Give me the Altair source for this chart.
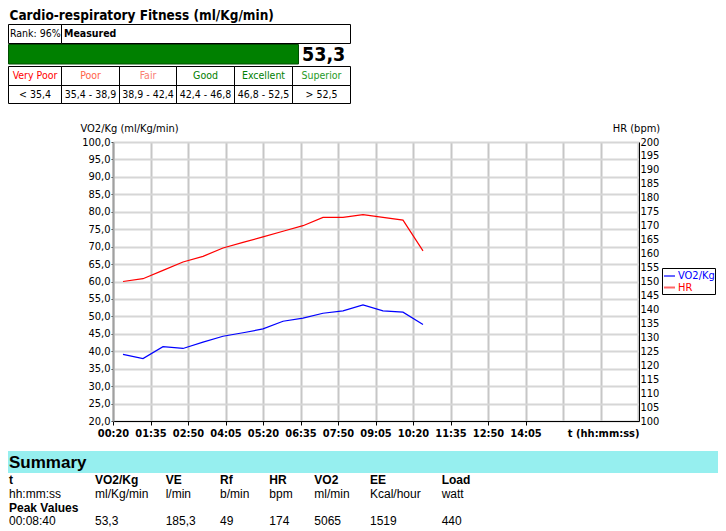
import altair as alt
import pandas as pd

# ---------------- data ----------------
time_s = [40, 80, 120, 160, 200, 240, 280, 320, 360, 400, 440, 480, 520, 560, 600, 640]
vo2_kg = [39.1, 37.9, 41.3, 40.8, 42.6, 44.3, 45.3, 46.4, 48.6, 49.5, 50.9, 51.6, 53.3, 51.6, 51.2, 47.7]
hr_bpm = [150, 151, 154, 157, 159, 162, 164, 166, 168, 170, 173, 173, 174, 173, 172, 161]

x_tick_seconds = [20, 95, 170, 245, 320, 395, 470, 545, 620, 695, 770, 845, 920, 995, 1070]
vo2_ticks = [20, 25, 30, 35, 40, 45, 50, 55, 60, 65, 70, 75, 80, 85, 90, 95, 100]
hr_ticks = [100, 105, 110, 115, 120, 125, 130, 135, 140, 145, 150, 155, 160, 165, 170, 175,
            180, 185, 190, 195, 200]

title_text = "Cardio-respiratory Fitness (ml/Kg/min)"
rank_text = "Rank: 96%"
measured_text = "Measured"
measured_value = 53.3
measured_label = "53,3"
categories = ["Very Poor", "Poor", "Fair", "Good", "Excellent", "Superior"]
category_ranges = ["< 35,4", "35,4 - 38,9", "38,9 - 42,4", "42,4 - 46,8", "46,8 - 52,5", "> 52,5"]
category_colors = ["#ff0000", "#ff6347", "#fa8072", "#008000", "#008000", "#1f9a1f"]

series_names = ["VO2/Kg", "HR"]
series_colors = ["#0000ff", "#ff0000"]

summary_title = "Summary"
summary_heads = ["t", "VO2/Kg", "VE", "Rf", "HR", "VO2", "EE", "Load"]
summary_units = ["hh:mm:ss", "ml/Kg/min", "l/min", "b/min", "bpm", "ml/min", "Kcal/hour", "watt"]
peak_label = "Peak Values"
peak_values = ["00:08:40", "53,3", "185,3", "49", "174", "5065", "1519", "440"]

# ---------------- layout (pixels, relative to plot origin) ----------------
COND = "DejaVu Sans Condensed, DejaVu Sans"
ARIAL = "Liberation Sans, Arial"
PLOT_W, PLOT_H = 526, 279
LEFT = -104.5
col_edges = [LEFT, -51.5, 6.5, 63.5, 121.5, 179.5, 237.5]
sum_cols = [-104, -18, 52.7, 107, 156.3, 201.3, 257, 328.7]


def text_layer(df, size, weight="normal", align="left", font=COND):
    return alt.Chart(df).mark_text(
        align=align, baseline="middle", fontSize=size, fontWeight=weight, font=font
    ).encode(
        x=alt.X("px:Q", scale=None, axis=None),
        y=alt.Y("py:Q", scale=None, axis=None),
        text="label:N",
        color=alt.Color("col:N", scale=None, legend=None),
    )


def box_layer(df, fill="transparent", stroke="black", sw=1):
    return alt.Chart(df).mark_rect(fill=fill, stroke=stroke, strokeWidth=sw).encode(
        x=alt.X("x0:Q", scale=None, axis=None),
        x2="x1:Q",
        y=alt.Y("y0:Q", scale=None, axis=None),
        y2="y1:Q",
    )


# ---------------- main lines ----------------
df = pd.DataFrame({"t": time_s, "vo2": vo2_kg, "hr": hr_bpm})
xscale = alt.Scale(domain=[20, 1072], nice=False, zero=False)

x_label_expr = ("datum.value > 900 ? '' : pad(floor(datum.value / 60), 2, '0', 'left') + ':' + "
                "pad(datum.value % 60, 2, '0', 'left')")

vo2_line = alt.Chart(df).mark_line(color=series_colors[0], strokeWidth=1.2).encode(
    x=alt.X("t:Q", scale=xscale, axis=alt.Axis(
        values=x_tick_seconds, labelExpr=x_label_expr, labelFontWeight="bold", labelFontSize=11,
        tickSize=4, tickColor={"condition": {"test": "datum.value > 900", "value": "transparent"},
                               "value": "#000000"},
        domainColor="black", domainWidth=1, grid=True, gridColor="#c6c6c6", gridWidth=2,
        labelPadding=2, labelFlush=False, labelOverlap=False,
        title="t (hh:mm:ss)", titleFontWeight="bold", titleFontSize=11, titleAlign="right",
        titleBaseline="middle", titleX=PLOT_W, titleY=12, titleAnchor="end")),
    y=alt.Y("vo2:Q", scale=alt.Scale(domain=[20, 100], nice=False, zero=False), axis=alt.Axis(
        values=vo2_ticks, labelExpr="replace(format(datum.value, '.1f'), '.', ',')",
        labelFontSize=11, tickSize=2, tickColor="#333333", labelPadding=1,
        domainColor="#a0a0a0", domainWidth=2, grid=True, gridColor="#d6d6d6", gridWidth=2,
        labelFlush=False, labelOverlap=False,
        title="VO2/Kg (ml/Kg/min)", titleAngle=0, titleAlign="left", titleBaseline="middle",
        titleX=-33, titleY=-14, titleFontWeight="normal", titleFontSize=11)),
)

hr_line = alt.Chart(df).mark_line(color=series_colors[1], strokeWidth=1.2).encode(
    x=alt.X("t:Q", scale=xscale, axis=None),
    y=alt.Y("hr:Q", scale=alt.Scale(domain=[100, 200], nice=False, zero=False), axis=alt.Axis(
        orient="right", values=hr_ticks, format="d", labelFontSize=11, ticks=False,
        labelPadding=1, domainColor="black", domainWidth=1, grid=False,
        labelFlush=False, labelOverlap=False,
        title="HR (bpm)", titleAngle=0, titleAlign="center", titleBaseline="middle",
        titleX=-3, titleY=-14, titleFontWeight="normal", titleFontSize=11)),
)

# ---------------- header ----------------
title_df = pd.DataFrame({"px": [-103.5], "py": [-126], "label": [title_text], "col": ["black"]})
title_layer = text_layer(title_df, 13.5, "bold")

rank_boxes = pd.DataFrame({
    "x0": [LEFT, col_edges[1]], "x1": [col_edges[1], col_edges[-1]],
    "y0": [-117.5, -117.5], "y1": [-98.5, -98.5]})
rank_df = pd.DataFrame({"px": [-103, col_edges[1] + 2.5], "py": [-108, -108],
                        "label": [rank_text, measured_text], "col": ["black", "black"]})
rank_layer = text_layer(rank_df.iloc[[0]], 10.5)
measured_layer = text_layer(rank_df.iloc[[1]], 10.5, "bold")

bar_df = pd.DataFrame({"zero": [0.0], "v": [measured_value]})
bar_layer = alt.Chart(bar_df).mark_rect(color="#008000", stroke="#004d00", strokeWidth=1).encode(
    x=alt.X("zero:Q", scale=alt.Scale(domain=[0, measured_value], range=[LEFT, 185.5]), axis=None),
    x2="v:Q",
    y=alt.value(-97.5),
    y2=alt.value(-78),
)
value_df = pd.DataFrame({"px": [189], "py": [-87.5], "label": [measured_label], "col": ["black"]})
value_layer = text_layer(value_df, 19.5, "bold")

cat_rows = []
cat_boxes = []
for i, (c, r, col) in enumerate(zip(categories, category_ranges, category_colors)):
    cx = (col_edges[i] + col_edges[i + 1]) / 2
    cat_rows.append({"px": cx, "py": -66, "label": c, "col": col})
    cat_rows.append({"px": cx, "py": -47.5, "label": r, "col": "black"})
    cat_boxes.append({"x0": col_edges[i], "x1": col_edges[i + 1], "y0": -75.5, "y1": -56.5})
    cat_boxes.append({"x0": col_edges[i], "x1": col_edges[i + 1], "y0": -56.5, "y1": -38.5})
cat_text_layer = text_layer(pd.DataFrame(cat_rows), 10.5, align="center")
cat_box_layer = box_layer(pd.DataFrame(cat_boxes))

# ---------------- legend ----------------
leg_box = pd.DataFrame({"x0": [549.5], "x1": [602.5], "y0": [126.5], "y1": [152.5]})
leg_lines = pd.DataFrame({"x0": [551, 551], "x1": [562, 562], "y0": [134, 145.5],
                          "col": series_colors})
leg_text = pd.DataFrame({"px": [565, 565], "py": [134, 145.5], "label": series_names,
                         "col": series_colors})
leg_box_layer = box_layer(leg_box, fill="white")
leg_line_layer = alt.Chart(leg_lines).mark_rule(strokeWidth=2, opacity=0.6).encode(
    x=alt.X("x0:Q", scale=None, axis=None), x2="x1:Q",
    y=alt.Y("y0:Q", scale=None, axis=None),
    color=alt.Color("col:N", scale=None, legend=None))
leg_text_layer = text_layer(leg_text, 11)

# ---------------- summary ----------------
band_df = pd.DataFrame({"x0": [-105], "x1": [605], "y0": [309], "y1": [331]})
band_layer = box_layer(band_df, fill="#96efef", stroke="transparent", sw=0)
sum_title_df = pd.DataFrame({"px": [-104], "py": [320.5], "label": [summary_title], "col": ["black"]})
sum_title_layer = text_layer(sum_title_df, 17, "bold", font=ARIAL)

head_df = pd.DataFrame({"px": sum_cols, "py": [337.7] * 8, "label": summary_heads, "col": ["black"] * 8})
unit_df = pd.DataFrame({"px": sum_cols, "py": [352.3] * 8, "label": summary_units, "col": ["black"] * 8})
peak_df = pd.DataFrame({"px": [-104], "py": [365.7], "label": [peak_label], "col": ["black"]})
val_df = pd.DataFrame({"px": sum_cols, "py": [379] * 8, "label": peak_values, "col": ["black"] * 8})
head_layer = text_layer(head_df, 12, "bold", font=ARIAL)
unit_layer = text_layer(unit_df, 12, font=ARIAL)
peak_layer = text_layer(peak_df, 12, "bold", font=ARIAL)
val_layer = text_layer(val_df, 12, font=ARIAL)

chart = alt.layer(
    vo2_line, hr_line,
    title_layer, box_layer(rank_boxes), rank_layer, measured_layer,
    bar_layer, value_layer, cat_box_layer, cat_text_layer,
    leg_box_layer, leg_line_layer, leg_text_layer,
    band_layer, sum_title_layer, head_layer, unit_layer, peak_layer, val_layer,
).resolve_scale(
    x="independent", y="independent"
).properties(
    width=PLOT_W, height=PLOT_H,
    padding={"left": 105, "top": 134, "right": 79, "bottom": 107},
    autosize=alt.AutoSizeParams(type="none"),
    background="white",
).configure_view(
    strokeWidth=0
).configure_axis(
    labelFont=COND, titleFont=COND, labelColor="black", titleColor="black"
)

chart.save("out.html", embed_options={"renderer": "svg", "actions": False})
